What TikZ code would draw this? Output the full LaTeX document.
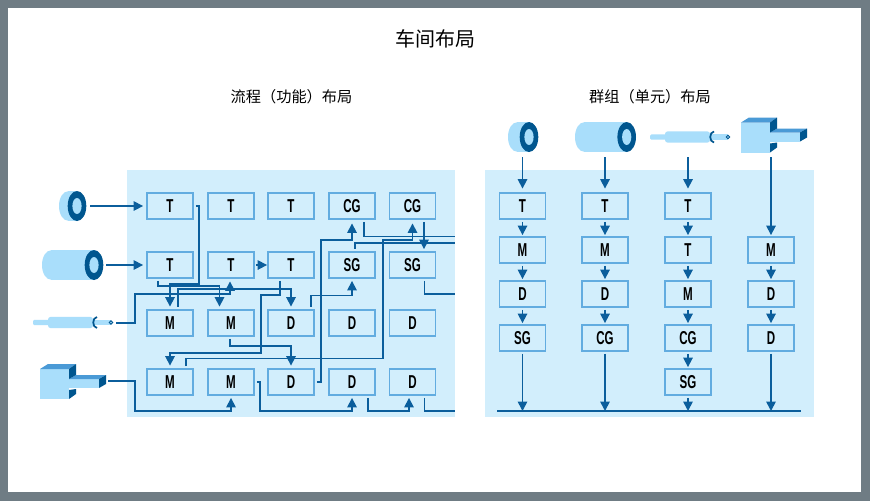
\documentclass[tikz,border=0pt]{standalone}
\usepackage{fontspec}
\usetikzlibrary{arrows.meta}
\newfontfamily\cjkfont{Noto Sans CJK SC}
\newfontfamily\boxfont[FakeStretch=0.62]{Liberation Sans}
\definecolor{framegrey}{HTML}{6F7C84}
\definecolor{panelblue}{HTML}{D2EEFC}
\definecolor{boxblue}{HTML}{62ACE0}
\definecolor{linkblue}{HTML}{0B5E9C}
\definecolor{toollight}{HTML}{A9DEFB}
\definecolor{toolmid}{HTML}{4A9AD6}
\definecolor{tooldark}{HTML}{00568F}
\tikzstyle{flowbox} = [draw=boxblue, fill=panelblue, line width=1.3pt, rectangle, minimum width=34.6pt, minimum height=19.6pt, inner sep=0pt, text=black, font=\boxfont\bfseries\fontsize{14}{14}\selectfont]
\tikzstyle{flowline} = [draw=linkblue, line width=1.2pt, -{Triangle[length=7pt,width=7pt]}]
\tikzstyle{flowend} = [draw=linkblue, line width=1.2pt]
\tikzstyle{panel} = [fill=panelblue]
\tikzstyle{headline} = [font=\cjkfont\fontsize{11.4}{13}\selectfont]
% name, x, y, length of the body
\newcommand{\ringtool}[4]{%
  \begin{scope}[shift={(#2,#3)}]
    \coordinate (#1) at (0,0);
    \fill[toollight] (-#4,0) ellipse [x radius=9, y radius=14.7];
    \fill[toollight] (-#4,-14.7) rectangle (0,14.7);
    \fill[tooldark] (0,0) ellipse [x radius=9.3, y radius=15];
    \fill[toollight] (0,0) ellipse [x radius=4.6, y radius=8];
  \end{scope}
}
% name, x, y
\newcommand{\pintool}[3]{%
  \begin{scope}[shift={(#2,#3)}]
    \coordinate (#1) at (0,0);
    \fill[toollight, rounded corners=1pt] (0,-2.6) rectangle (18,2.6);
    \fill[toollight, rounded corners=2pt] (15,-5.6) rectangle (60,5.6);
    \fill[toollight] (60,-2.6) rectangle (78,2.6);
    \draw[tooldark, line width=1.3pt] (64,-5.5) .. controls (59,-5) and (59,5) .. (64,5.5);
    \draw[tooldark, fill=toollight, line width=.7pt] (78,0) circle [radius=1.7];
  \end{scope}
}
% name, x, y
\newcommand{\blocktool}[3]{%
  \begin{scope}[shift={(#2,#3)}]
    \coordinate (#1) at (0,0);
    \fill[toollight] (0,0) rectangle (29,30);
    \fill[toollight] (29,10) rectangle (59,19);
    \fill[toolmid] (0,0) -- (8,-5) -- (36,-5) -- (29,0) -- cycle;
    \fill[toolmid] (29,10) -- (36,6) -- (66,6) -- (59,10) -- cycle;
    \fill[tooldark] (29,0) -- (36,-5) -- (36,6) -- (29,10) -- cycle;
    \fill[tooldark] (29,21) -- (36,20) -- (36,25) -- (29,30) -- cycle;
    \fill[tooldark] (59,10) -- (66,6) -- (66,15) -- (59,19) -- cycle;
  \end{scope}
}

\begin{document}
\begin{tikzpicture}[x=0.75pt, y=-0.75pt]
\useasboundingbox (0,0) rectangle (870,501);
\fill[framegrey] (0,0) rectangle (870,501);
\fill[white] (8,8) rectangle (861,492);
\node [font=\cjkfont\fontsize{15}{18}\selectfont] (title) at (435.5,39) {车间布局};
\node [headline] (headleft) at (291.5,97) {流程（功能）布局};
\node [headline] (headright) at (650,97) {群组（单元）布局};
\fill[panel] (127,170) rectangle (455,417);
\fill[panel] (485,170) rectangle (814,417);

% process layout
\node [flowbox] (ta) at (170,206) {T};
\node [flowbox] (tb) at (231,206) {T};
\node [flowbox] (tc) at (291,206) {T};
\node [flowbox] (cga) at (352,206) {CG};
\node [flowbox] (cgb) at (412.5,206) {CG};
\node [flowbox] (td) at (170,265) {T};
\node [flowbox] (te) at (231,265) {T};
\node [flowbox] (tf) at (291,265) {T};
\node [flowbox] (sga) at (352,265) {SG};
\node [flowbox] (sgb) at (412.5,265) {SG};
\node [flowbox] (ma) at (170,323) {M};
\node [flowbox] (mb) at (231,323) {M};
\node [flowbox] (da) at (291,323) {D};
\node [flowbox] (db) at (352,323) {D};
\node [flowbox] (dc) at (412.5,323) {D};
\node [flowbox] (mc) at (170,382) {M};
\node [flowbox] (md) at (231,382) {M};
\node [flowbox] (dd) at (291,382) {D};
\node [flowbox] (de) at (352,382) {D};
\node [flowbox] (df) at (412.5,382) {D};

\ringtool{ringa}{77}{206}{9}
\ringtool{ringb}{94}{265}{43}
\pintool{pina}{33}{322.5}
\blocktool{blocka}{40}{369}

\coordinate (outa) at (455,236.5);
\coordinate (outb) at (455,243);
\coordinate (outc) at (455,294);
\coordinate (outd) at (455,411);

\draw[flowline] ([shift={(13,0)}]ringa) -- ([shift={(-3,0)}]ta.west);
\draw[flowline] ([shift={(12,0)}]ringb) -- ([shift={(-3,0)}]td.west);
\draw[flowline] ([shift={(83,0.5)}]pina) -| (135,294) -| ([shift={(-1,2.5)}]te.south);
\draw[flowline] ([shift={(68,12)}]blocka) -| (135,411) -| ([shift={(0,2)}]md.south);
\draw[flowline] ([shift={(2,0)}]ta.east) -| (199,284) -| ([shift={(0,-2.5)}]ma.north);
\draw[flowline] ([shift={(-12,2)}]td.south) |- (219.5,286) -- ([shift={(-11.5,-2.5)}]mb.north);
\draw[flowline] ([shift={(8,-2.5)}]ma.north) |- (291,289) -- ([shift={(0,-2.5)}]da.north);
\draw[flowline] ([shift={(-11,2)}]tf.south) |- (261,295) |- (170,353) -- ([shift={(0,-2.5)}]mc.north);
\draw[flowline] ([shift={(-1,2)}]mb.south) |- (291,346) -- ([shift={(0,-2.5)}]dd.north);
\draw[flowline] ([shift={(16,-2)}]mc.north) |- (382.7,358.5) |- (412.5,240) -- ([shift={(0,3.5)}]cgb.south);
\draw[flowline] ([shift={(2,0)}]dd.east) -| (321,240) -| ([shift={(0,3.5)}]cga.south);
\draw[flowline] ([shift={(20,-2.5)}]da.north) |- (352,295.5) -- ([shift={(0,2)}]sga.south);
\draw[flowline] ([shift={(11.5,2)}]cgb.south) -- ([shift={(11.5,-2)}]sgb.north);
\draw[flowline] ([shift={(1,0)}]te.east) -- (tf.west);
\draw[flowline] ([shift={(2,0)}]md.east) -| (260,411) -| ([shift={(0,2)}]de.south);
\draw[flowline] ([shift={(16,2)}]de.south) |- (409,411) -- ([shift={(-3.5,2)}]df.south);
\draw[flowend] ([shift={(12,2)}]cga.south) |- (outa);
\draw[flowend] ([shift={(3,-2.5)}]sga.north) |- (outb);
\draw[flowend] ([shift={(12,2)}]sgb.south) |- (outc);
\draw[flowend] ([shift={(12,2)}]df.south) |- (outd);

% group layout
\node [flowbox] (rta) at (522.5,206) {T};
\node [flowbox] (rma) at (522.5,250) {M};
\node [flowbox] (rda) at (522.5,294) {D};
\node [flowbox] (rsa) at (522.5,338) {SG};
\node [flowbox] (rtb) at (605,206) {T};
\node [flowbox] (rmb) at (605,250) {M};
\node [flowbox] (rdb) at (605,294) {D};
\node [flowbox] (rcb) at (605,338) {CG};
\node [flowbox] (rtc) at (688,206) {T};
\node [flowbox] (rtd) at (688,250) {T};
\node [flowbox] (rmc) at (688,294) {M};
\node [flowbox] (rcc) at (688,338) {CG};
\node [flowbox] (rsc) at (688,382) {SG};
\node [flowbox] (rmd) at (771,250) {M};
\node [flowbox] (rdd) at (771,294) {D};
\node [flowbox] (rde) at (771,338) {D};

\ringtool{ringc}{529}{137}{12}
\ringtool{ringd}{626.7}{137}{42.7}
\pintool{pinb}{650}{137}
\blocktool{blockb}{741}{122.5}

\coordinate (basea) at (497,411);
\coordinate (baseb) at (801,411);
\draw[flowend] (basea) -- (baseb);

\draw[flowline] ([shift={(-6.5,20)}]ringc) -- ([shift={(0,-3.5)}]rta.north);
\draw[flowline] ([shift={(-21.7,20)}]ringd) -- ([shift={(0,-3.5)}]rtb.north);
\draw[flowline] ([shift={(38,20)}]pinb) -- ([shift={(0,-3.5)}]rtc.north);
\draw[flowline] ([shift={(30,34.5)}]blockb) -- ([shift={(0,-1)}]rmd.north);
\foreach \from/\to in {rta/rma,rma/rda,rda/rsa,rtb/rmb,rmb/rdb,rdb/rcb,rtc/rtd,rtd/rmc,rmc/rcc,rcc/rsc,rmd/rdd,rdd/rde}
  \draw[flowline] ([shift={(0,2)}]\from.south) -- ([shift={(0,-1)}]\to.north);
\foreach \from in {rsa,rcb,rsc,rde}
  \draw[flowline] ([shift={(0,2)}]\from.south) -- (\from.south |- basea);
\end{tikzpicture}
\end{document}
